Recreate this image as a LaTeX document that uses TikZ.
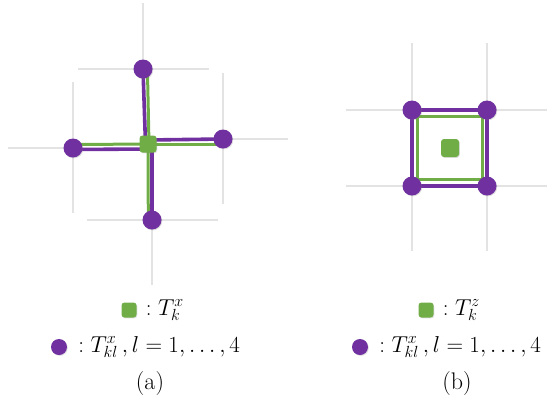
\RequirePackage{fix-cm}
\documentclass[tikz,border=0pt]{standalone}
\usetikzlibrary{positioning,shadows}
\definecolor{qpurple}{HTML}{7030A0}
\definecolor{qgreen}{HTML}{70AD47}
\definecolor{qgrey}{HTML}{E3E3E3}
\pgfdeclarelayer{bg}
\pgfsetlayers{bg,main}
\tikzset{
  site/.style={circle, fill=qpurple, minimum size=19pt, inner sep=0pt,
    drop shadow={opacity=0.25, shadow xshift=0.8pt, shadow yshift=-0.9pt}},
  plaq/.style={rectangle, rounded corners=3pt, fill=qgreen, minimum size=17pt, inner sep=0pt,
    drop shadow={opacity=0.25, shadow xshift=0.8pt, shadow yshift=-0.9pt}},
  lattice/.style={qgrey, line width=2.6pt},
  pbond/.style={qpurple, line width=3.6pt},
  gbond/.style={qgreen, line width=3pt},
  legend/.style={font=\fontsize{23}{27}\selectfont, inner sep=0pt},
  caption/.style={font=\fontsize{24}{28}\selectfont, inner sep=0pt}}

\begin{document}
\begin{tikzpicture}[x=1pt,y=-1pt]
  \useasboundingbox (0,0) rectangle (547,405);
  % (a) star
  \node[plaq] (ck) at (148,144) {};
  \node[site] (n1) at (143,69) {};
  \node[site] (n2) at (73,148) {};
  \node[site] (n3) at (223,139) {};
  \node[site] (n4) at (152,220) {};
  % (b) plaquette
  \node[plaq, minimum size=18pt] (cz) at (450,148) {};
  \node[site] (m1) at (412,110) {};
  \node[site] (m2) at (487,110) {};
  \node[site] (m3) at (487,186) {};
  \node[site] (m4) at (412,186) {};
  \begin{pgfonlayer}{bg}
    \draw[lattice] ([shift={(0,-66)}]n1.center) -- (n1.center);
    \draw[lattice] ([shift={(-65,0)}]n1.center) -- ([shift={(66,0)}]n1.center);
    \draw[lattice] ([shift={(0,-66)}]n2.center) -- ([shift={(0,65)}]n2.center);
    \draw[lattice] ([shift={(-65,0)}]n2.center) -- (n2.center);
    \draw[lattice] ([shift={(0,-66)}]n3.center) -- ([shift={(0,65)}]n3.center);
    \draw[lattice] (n3.center) -- ([shift={(65,0)}]n3.center);
    \draw[lattice] ([shift={(-65,0)}]n4.center) -- ([shift={(66,0)}]n4.center);
    \draw[lattice] (n4.center) -- ([shift={(0,65)}]n4.center);
    \draw[pbond] (n1.center) -- ([shift={(-2.5,0)}]ck.center);
    \draw[gbond] ([shift={(4.5,4)}]n1.center) -- ([shift={(1,0)}]ck.center);
    \draw[pbond] ([shift={(0,1.5)}]n2.center) -- ([shift={(0,5)}]ck.center);
    \draw[gbond] ([shift={(4,-3.5)}]n2.center) -- (ck.center);
    \draw[pbond] ([shift={(0,-4)}]ck.center) -- (n3.center);
    \draw[gbond] (ck.center) -- ([shift={(-4,5)}]n3.center);
    \draw[pbond] ([shift={(4,0)}]ck.center) -- (n4.center);
    \draw[gbond] (ck.center) -- ([shift={(-3.7,-4)}]n4.center);
    \draw[lattice] ([shift={(0,-67)}]m1.center) -- ([shift={(0,65)}]m4.center);
    \draw[lattice] ([shift={(0,-67)}]m2.center) -- ([shift={(0,65)}]m3.center);
    \draw[lattice] ([shift={(-66,0)}]m1.center) -- ([shift={(60,0)}]m2.center);
    \draw[lattice] ([shift={(-66,0)}]m4.center) -- ([shift={(60,0)}]m3.center);
    \draw[pbond] (m1.center) -- (m2.center) -- (m3.center) -- (m4.center) -- cycle;
    \draw[gbond] ([shift={(5,6)}]m1.center) -- ([shift={(-5,6)}]m2.center)
      -- ([shift={(-5,-6.5)}]m3.center) -- ([shift={(5,-6.5)}]m4.center) -- cycle;
  \end{pgfonlayer}
  % legends
  \node[plaq, minimum size=15pt] (lg1) at (129,310) {};
  \node[legend, right=9pt of lg1] (lt1) {$:T^x_k$};
  \node[site, minimum size=16pt] (lp1) at (59,347) {};
  \node[legend, right=11pt of lp1] (lt2) {$:T^x_{kl}\,,l=1,\ldots,4$};
  \node[caption] (capa) at (150,384) {(a)};
  \node[plaq, minimum size=15pt] (lg2) at (426,310) {};
  \node[legend, right=9pt of lg2] (lt3) {$:T^z_k$};
  \node[site, minimum size=16pt] (lp2) at (360,347) {};
  \node[legend, right=11pt of lp2] (lt4) {$:T^x_{kl}\,,l=1,\ldots,4$};
  \node[caption] (capb) at (457,384) {(b)};
\end{tikzpicture}
\end{document}
